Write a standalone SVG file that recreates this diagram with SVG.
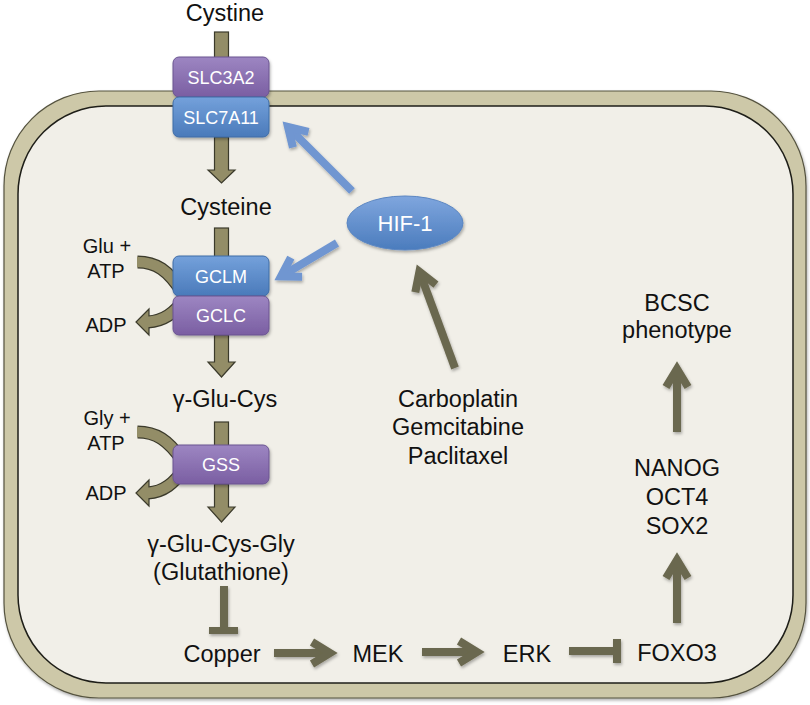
<svg xmlns="http://www.w3.org/2000/svg" width="810" height="705" viewBox="0 0 810 705">
<defs>
<style>
text{font-family:"Liberation Sans",Arial,sans-serif;fill:#111;text-anchor:middle}
.lbl{font-size:23.5px}
.sm{font-size:20px}
.bt{font-size:18px;fill:#fff}
.stem{fill:#938d67;stroke:#3b3a2b;stroke-width:1.2}
.ln{stroke:#6b684f;stroke-width:8;fill:none}
.bl{stroke:#7096d1;stroke-width:8;fill:none}
.cvo{stroke:#3b3a2b;stroke-width:13;fill:none}
.cvi{stroke:#938d67;stroke-width:10.6;fill:none}
.hd{fill:#938d67;stroke:#3b3a2b;stroke-width:1.2}
.pur{fill:url(#gp);stroke:#6a5490;stroke-width:1}
.blu{fill:url(#gb);stroke:#3f6ca6;stroke-width:1}
</style>
<linearGradient id="gp" x1="0" y1="0" x2="0" y2="1"><stop offset="0" stop-color="#9d86c2"/><stop offset="1" stop-color="#7a5ea2"/></linearGradient>
<linearGradient id="gb" x1="0" y1="0" x2="0" y2="1"><stop offset="0" stop-color="#74a1db"/><stop offset="1" stop-color="#4a7aba"/></linearGradient>
<linearGradient id="ge" x1="0" y1="0" x2="0" y2="1"><stop offset="0" stop-color="#7fa6de"/><stop offset="1" stop-color="#4b7cbd"/></linearGradient>
<filter id="sh" x="-20%" y="-20%" width="140%" height="140%"><feDropShadow dx="1" dy="2" stdDeviation="1.5" flood-color="#000" flood-opacity="0.3"/></filter>
<marker id="ah" markerUnits="userSpaceOnUse" markerWidth="30" markerHeight="30" refX="0" refY="0" orient="auto" overflow="visible"><path d="M-18,-11 L0,0 L-18,11" fill="none" stroke="#6b684f" stroke-width="8" stroke-linejoin="miter"/></marker>
<marker id="ab" markerUnits="userSpaceOnUse" markerWidth="30" markerHeight="30" refX="0" refY="0" orient="auto" overflow="visible"><path d="M-18,-11 L0,0 L-18,11" fill="none" stroke="#7096d1" stroke-width="8" stroke-linejoin="miter"/></marker>
</defs>

<g id="cell">
<rect x="4" y="91" width="802" height="607" rx="95" ry="95" fill="#cdc8a8" stroke="#55533f" stroke-width="1.2" filter="url(#sh)"/>
<rect x="18" y="106" width="775" height="577" rx="88" ry="88" fill="#f1efe8" stroke="#1e1e18" stroke-width="1.5"/>
</g>

<g id="connectors">
<rect class="stem" x="214.5" y="32" width="14" height="27"/>
<polygon class="stem" points="214.5,137 228.5,137 228.5,170 235,170 221.5,183 208,170 214.5,170"/>
<rect class="stem" x="214.5" y="228" width="14" height="29"/>
<polygon class="stem" points="214.5,335 228.5,335 228.5,362 235,362 221.5,377 208,362 214.5,362"/>
<rect class="stem" x="214.5" y="422" width="14" height="24"/>
<polygon class="stem" points="214.5,484 228.5,484 228.5,507 235,507 221.5,522 208,507 214.5,507"/>
<path class="cvo" d="M137.5,262 C156,262 168,270 182,292"/>
<path class="cvi" d="M137,262 C156,262 168,270 182,292"/>
<path class="cvo" d="M184,300 C174,313 164,321 148,322"/>
<polygon class="hd" points="149,309 136,322 149,335"/>
<path class="cvi" d="M184,300 C174,313 164,321 147,322"/>
<path class="cvo" d="M137.5,432 C156,432 168,440 182,460"/>
<path class="cvi" d="M137,432 C156,432 168,440 182,460"/>
<path class="cvo" d="M184,469 C174,483 164,492 148,493"/>
<polygon class="hd" points="149,480 136,493 149,506"/>
<path class="cvi" d="M184,469 C174,483 164,492 147,493"/>
<g filter="url(#sh)">
<line class="bl" x1="352" y1="191" x2="288" y2="127" marker-end="url(#ab)"/>
<line class="bl" x1="337" y1="243" x2="281" y2="276.4" marker-end="url(#ab)"/>
<line class="ln" x1="455" y1="368" x2="419.4" y2="271.6" marker-end="url(#ah)"/>
<line class="ln" x1="224" y1="586" x2="224" y2="630"/>
<rect x="209" y="627" width="29" height="7" fill="#6b684f"/>
<line class="ln" x1="274" y1="653" x2="330" y2="653" marker-end="url(#ah)"/>
<line class="ln" x1="422" y1="652" x2="477" y2="652" marker-end="url(#ah)"/>
<line class="ln" x1="569" y1="651" x2="614" y2="651"/>
<rect x="613" y="639" width="8" height="24" fill="#6b684f"/>
<line class="ln" x1="677" y1="623" x2="677" y2="560" marker-end="url(#ah)"/>
<line class="ln" x1="677" y1="432" x2="677" y2="369" marker-end="url(#ah)"/>
</g>
</g>

<g id="nodes">
<g id="cystine"><text class="lbl" x="225" y="21">Cystine</text></g>
<g id="slc3a2"><rect class="pur" x="173" y="57" width="96" height="40" rx="6" filter="url(#sh)"/><text class="bt" x="221" y="84">SLC3A2</text></g>
<g id="slc7a11"><rect class="blu" x="173" y="97" width="96" height="40" rx="6" filter="url(#sh)"/><text class="bt" x="221" y="124">SLC7A11</text></g>
<g id="cysteine"><text class="lbl" x="226" y="215">Cysteine</text></g>
<g id="glu-atp"><text class="sm" x="107" y="253">Glu +</text><text class="sm" x="106" y="278">ATP</text></g>
<g id="adp1"><text class="sm" x="106" y="332">ADP</text></g>
<g id="gclm"><rect class="blu" x="173" y="256" width="96" height="40" rx="6" filter="url(#sh)"/><text class="bt" x="221" y="283">GCLM</text></g>
<g id="gclc"><rect class="pur" x="173" y="296" width="96" height="39" rx="6" filter="url(#sh)"/><text class="bt" x="221" y="322">GCLC</text></g>
<g id="gglucys"><text class="lbl" x="225" y="407">γ-Glu-Cys</text></g>
<g id="gly-atp"><text class="sm" x="107" y="425">Gly +</text><text class="sm" x="106" y="450">ATP</text></g>
<g id="adp2"><text class="sm" x="106" y="500">ADP</text></g>
<g id="gss"><rect class="pur" x="173" y="445" width="96" height="39" rx="6" filter="url(#sh)"/><text class="bt" x="221" y="471">GSS</text></g>
<g id="glutathione"><text class="lbl" x="221" y="552">γ-Glu-Cys-Gly</text><text class="lbl" x="221" y="580">(Glutathione)</text></g>
<g id="copper"><text class="lbl" x="222" y="662">Copper</text></g>
<g id="mek"><text class="lbl" x="378" y="662">MEK</text></g>
<g id="erk"><text class="lbl" x="527" y="662">ERK</text></g>
<g id="foxo3"><text class="lbl" x="677" y="661">FOXO3</text></g>
<g id="nanog"><text class="lbl" x="677" y="476">NANOG</text><text class="lbl" x="677" y="505">OCT4</text><text class="lbl" x="677" y="534">SOX2</text></g>
<g id="bcsc"><text class="lbl" x="677" y="311">BCSC</text><text class="lbl" x="677" y="338">phenotype</text></g>
<g id="hif1"><ellipse cx="405" cy="223" rx="58" ry="27" fill="url(#ge)" stroke="#5b86c2" stroke-width="1" filter="url(#sh)"/><text x="405" y="231" style="font-size:22px;fill:#fff">HIF-1</text></g>
<g id="drugs"><text class="lbl" x="458" y="407">Carboplatin</text><text class="lbl" x="458" y="435">Gemcitabine</text><text class="lbl" x="458" y="464">Paclitaxel</text></g>
</g>
</svg>
